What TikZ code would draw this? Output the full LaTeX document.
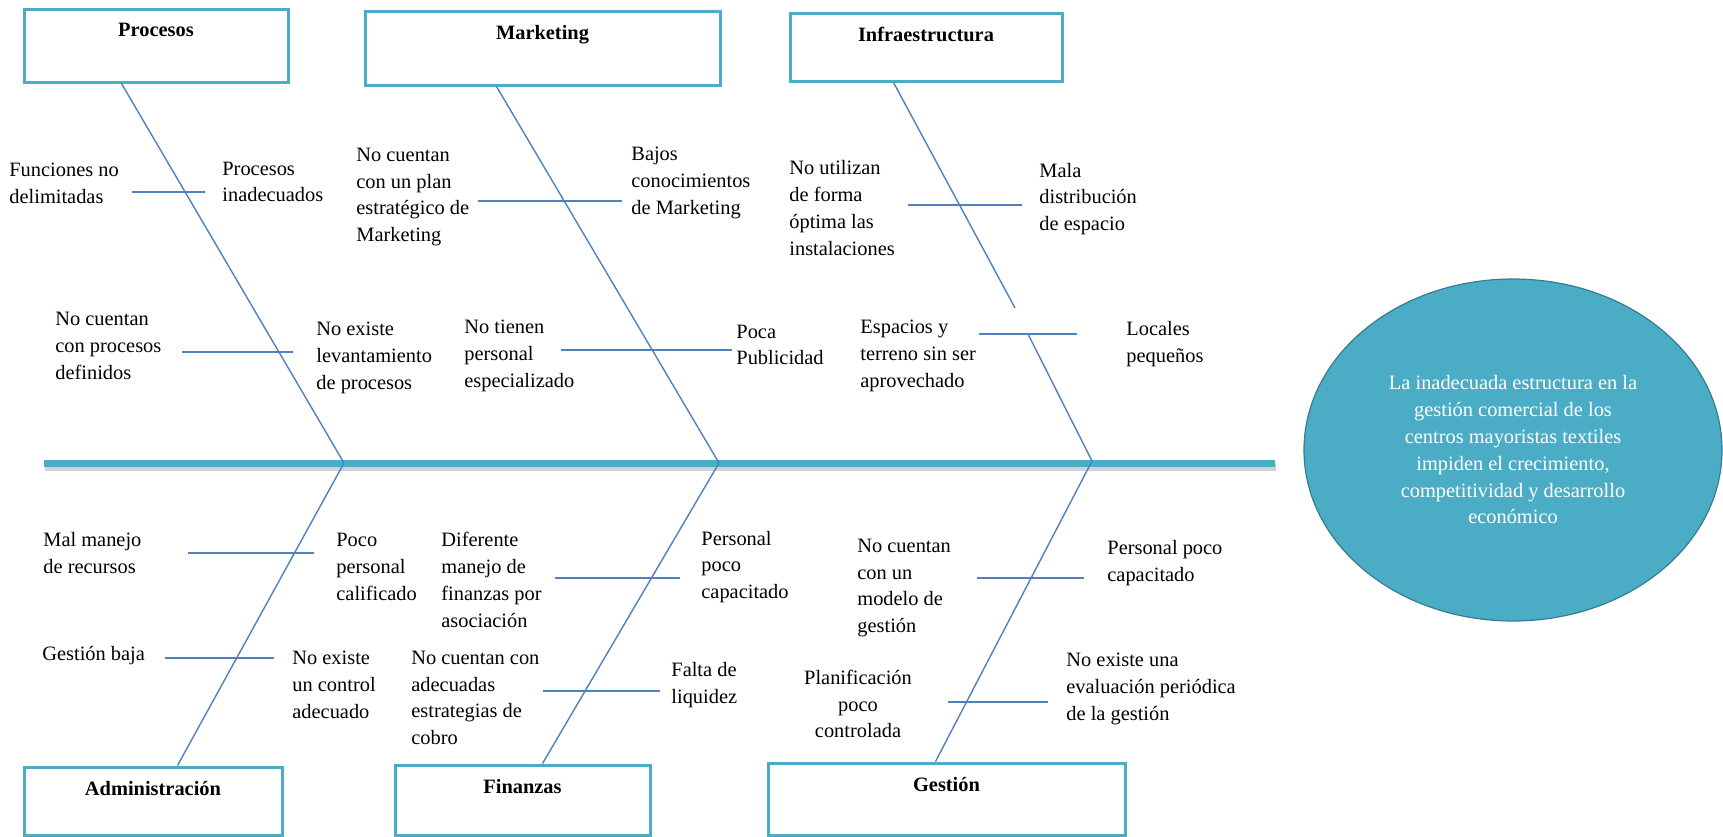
\documentclass[tikz,border=0pt]{standalone}
\usepackage{fontspec}
\setmainfont{Liberation Serif}
\usetikzlibrary{positioning,shapes.geometric}
\definecolor{boxteal}{HTML}{4BACC6}
\definecolor{boneblue}{HTML}{4F81BD}
\definecolor{circedge}{HTML}{357D91}

\begin{document}
\begin{tikzpicture}[
    x=0.5pt, y=-0.5pt,
    every node/.style={font=\fontsize{10.2}{13.4}\selectfont},
    box/.style={draw=boxteal, line width=1.5pt, inner sep=0pt},
    title/.style={inner sep=0pt, font=\fontsize{10.2}{13.4}\selectfont\bfseries},
    cause/.style={inner sep=0pt, align=left, anchor=west},
    bone/.style={draw=boneblue, line width=0.7pt},
    spine/.style={draw=boxteal, line width=3.5pt},
    spineshadow/.style={draw=black!18, line width=3.5pt},
    effect/.style={ellipse, draw=circedge, line width=0.6pt, fill=boxteal, text=white, align=center, inner sep=0pt}
  ]
    \useasboundingbox (0,0) rectangle (1723,836);

    \node[box, minimum width=132pt, minimum height=36.5pt] (procesos) at (156,45.5) {};
    \node[box, minimum width=177.5pt, minimum height=37pt] (marketing) at (542.5,48) {};
    \node[box, minimum width=136pt, minimum height=34pt] (infra) at (926,47) {};
    \node[box, minimum width=129pt, minimum height=34pt] (admin) at (153,801) {};
    \node[box, minimum width=127.5pt, minimum height=35pt] (finanzas) at (522.5,800) {};
    \node[box, minimum width=178.5pt, minimum height=36pt] (gestion) at (946.5,799) {};

    \node[title, below=7.5pt of procesos.north] (tprocesos) {Procesos};
    \node[title, below=7.5pt of marketing.north] (tmarketing) {Marketing};
    \node[title, below=7.5pt of infra.north] (tinfra) {Infraestructura};
    \node[title, below=7.5pt of admin.north] (tadmin) {Administración};
    \node[title, below=7.5pt of finanzas.north] (tfinanzas) {Finanzas};
    \node[title, below=7.5pt of gestion.north] (tgestion) {Gestión};

    \node[effect, minimum width=209pt, minimum height=171pt] (efecto) at (1513,450)
      {La inadecuada estructura en la\\gestión comercial de los\\centros mayoristas textiles\\impiden el crecimiento,\\competitividad y desarrollo\\económico};

    \coordinate (cola) at (44,463);
    \coordinate (cabeza) at (1275,463);
    \draw[spineshadow] ([xshift=0.5pt,yshift=-2pt]cola) -- ([xshift=0.5pt,yshift=-2pt]cabeza);
    \draw[spine] (cola) -- (cabeza);

    \coordinate (jp) at (344,463);
    \coordinate (jm) at (719,463);
    \coordinate (ji) at (1092,461);
    \coordinate (igap1) at (1015,308);
    \coordinate (igap2) at (1028,334);
    \draw[bone] (procesos.south west) ++(99,0) -- (jp);
    \draw[bone] (marketing.south west) ++(133,0) -- (jm);
    \draw[bone] (infra.south west) ++(105,0) -- (igap1);
    \draw[bone] (igap2) -- (ji);
    \draw[bone] (admin.north west) ++(155,0) -- (jp);
    \draw[bone] (finanzas.north west) ++(149,0) -- (jm);
    \draw[bone] (gestion.north west) ++(169,0) -- (ji);

    \node[cause] (p1) at (9,183) {Funciones no\\delimitadas};
    \node[cause] (p2) at (222,182) {Procesos\\inadecuados};
    \node[cause] (p3) at (55,346) {No cuentan\\con procesos\\definidos};
    \node[cause] (p4) at (316,358) {No existe\\levantamiento\\de procesos};
    \node[cause] (m1) at (356,197) {No cuentan\\con un plan\\estratégico de\\Marketing};
    \node[cause] (m2) at (631,183) {Bajos\\conocimientos\\de Marketing};
    \node[cause] (m3) at (464,356) {No tienen\\personal\\especializado};
    \node[cause] (m4) at (736,345) {Poca\\Publicidad};
    \node[cause] (i1) at (789,208) {No utilizan\\de forma\\óptima las\\instalaciones};
    \node[cause] (i2) at (1039,199) {Mala\\distribución\\de espacio};
    \node[cause] (i3) at (860,356) {Espacios y\\terreno sin ser\\aprovechado};
    \node[cause] (i4) at (1126,344) {Locales\\pequeños};
    \node[cause] (a1) at (43,553) {Mal manejo\\de recursos};
    \node[cause] (a2) at (336,567) {Poco\\personal\\calificado};
    \node[cause] (a3) at (42,656) {Gestión baja};
    \node[cause] (a4) at (292,685) {No existe\\un control\\adecuado};
    \node[cause] (f1) at (441,580) {Diferente\\manejo de\\finanzas por\\asociación};
    \node[cause] (f2) at (701,567) {Personal\\poco\\capacitado};
    \node[cause] (f3) at (411,698) {No cuentan con\\adecuadas\\estrategias de\\cobro};
    \node[cause] (f4) at (671,685) {Falta de\\liquidez};
    \node[cause] (g1) at (857,588) {No cuentan\\con un\\modelo de\\gestión};
    \node[cause] (g2) at (1107,563) {Personal poco\\capacitado};
    \node[cause, anchor=center, align=center] (g3) at (858,704) {Planificación\\poco\\controlada};
    \node[cause] (g4) at (1066,689) {No existe una\\evaluación periódica\\de la gestión};

    \draw[bone] (132,192) -- (205,192);
    \draw[bone] (182,352) -- (293,352);
    \draw[bone] (478,201) -- (622,201);
    \draw[bone] (561,350) -- (732,350);
    \draw[bone] (908,205) -- (1022,205);
    \draw[bone] (979,334) -- (1077,334);
    \draw[bone] (188,553) -- (314,553);
    \draw[bone] (165,658) -- (274,658);
    \draw[bone] (555,578) -- (680,578);
    \draw[bone] (543,691) -- (660,691);
    \draw[bone] (977,578) -- (1084,578);
    \draw[bone] (948,702) -- (1048,702);
  \end{tikzpicture}
\end{document}
